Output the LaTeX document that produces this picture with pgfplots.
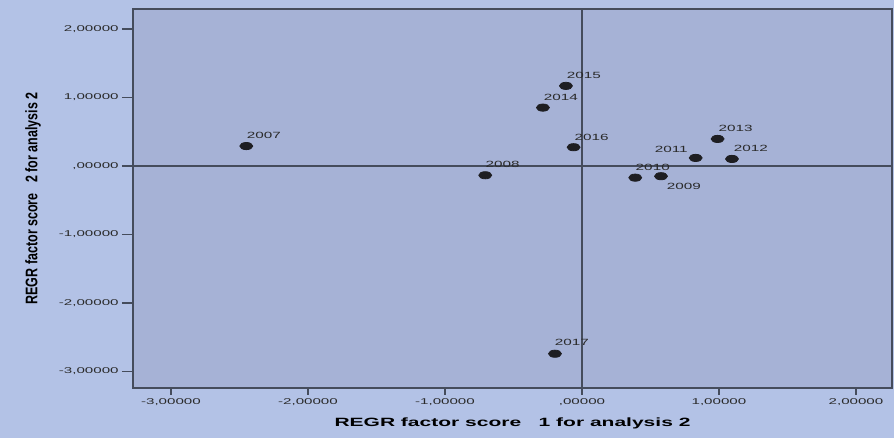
\documentclass[border=0pt]{standalone}
\usepackage{pgfplots}
\pgfplotsset{compat=1.18}
\usepackage{fontspec}
\setmainfont{Liberation Sans}
\newfontfamily\tickfont[FakeStretch=1.8]{Liberation Sans}
\newfontfamily\ptfont[FakeStretch=1.7]{Liberation Sans}
\newfontfamily\xlabfont[FakeStretch=1.75]{Liberation Sans}
\usetikzlibrary{backgrounds}
\definecolor{outerbg}{HTML}{B3C2E6}
\definecolor{plotbg}{HTML}{A6B2D6}
\definecolor{axline}{HTML}{454C5C}
\definecolor{txt}{HTML}{2A2A2A}
\definecolor{dot}{HTML}{1E1E22}
\pgfplotstableread{
x y dx dy lab
-2.45 0.29 8.75 5.2 2007
-0.706 -0.136 8.75 5.2 2008
0.577 -0.150 11.4 -4.85 2009
0.389 -0.171 8.75 5.2 2010
0.830 0.117 -12.2 4.5 2011
1.095 0.102 9.5 5.3 2012
0.990 0.394 9.0 5.3 2013
-0.285 0.851 9.0 5.3 2014
-0.117 1.168 9.0 5.0 2015
-0.061 0.273 9.0 5.0 2016
-0.197 -2.740 8.4 5.5 2017
}\pts
\begin{document}
\begin{tikzpicture}
\begin{axis}[
  at={(0,0)}, anchor=south west,
  scale only axis, width=379.5pt, height=189.5pt,
  xmin=-3.277, xmax=2.263, ymin=-3.24, ymax=2.29,
  xtick={-3,-2,-1,0,1,2}, ytick={-3,-2,-1,0,1,2},
  tick align=outside,
  axis background/.style={fill=plotbg},
  axis line style={draw=axline, line width=1pt},
  tick style={draw=axline, line width=0.8pt},
  major tick length=5.5pt,
  xticklabels={{-3,00000},{-2,00000},{-1,00000},{,00000},{1,00000},{2,00000}},
  yticklabels={{-3,00000},{-2,00000},{-1,00000},{,00000},{1,00000},{2,00000}},
  xtick pos=bottom, ytick pos=left,
  xtick style={draw=none},
  ticklabel style={font=\tickfont\fontsize{4.2}{5}\selectfont, text=txt, inner sep=0pt},
  xticklabel style={anchor=north, yshift=0.5pt},
  yticklabel style={anchor=east, xshift=-1.5pt},
  xlabel={\xlabfont\bfseries\fontsize{6}{7}\selectfont REGR factor score\ \ \ 1 for analysis 2},
  ylabel={\scalebox{1}[1.34]{\bfseries\fontsize{6.25}{7}\selectfont REGR factor score\ \ \ 2 for analysis 2}},
  every axis x label/.style={at={(axis description cs:0.5,-0.093)}, anchor=center, text=black},
  every axis y label/.style={at={(axis description cs:-0.1318,0.5)}, anchor=center, rotate=90, text=black},
  clip=false,
  unbounded coords=jump,
]
\addplot[axline, line width=0.6pt, forget plot] coordinates {(0,-3.24) (0,2.29)};
\addplot[axline, line width=0.6pt, forget plot] coordinates {(-3.277,0) (2.263,0)};
% x-axis tick marks
\addplot[axline, line width=1pt, forget plot] coordinates {
  (-3,-3.24) (-3,-3.345) (-3,nan)
  (-2,-3.24) (-2,-3.345) (-2,nan)
  (-1,-3.24) (-1,-3.345) (-1,nan)
  (0,-3.24) (0,-3.345) (0,nan)
  (1,-3.24) (1,-3.345) (1,nan)
  (2,-3.24) (2,-3.345)};
\addplot[only marks, mark=*, mark size=1.8pt, mark options={xscale=1.8, fill=dot, draw=dot},
  point meta=explicit symbolic,
  visualization depends on={\thisrow{dx}\as\dx},
  visualization depends on={\thisrow{dy}\as\dy},
  nodes near coords,
  nodes near coords style={anchor=center, inner sep=0pt, xshift=\dx pt, yshift=\dy pt,
    font=\ptfont\fontsize{4.5}{5}\selectfont, text=txt},
] table[x=x, y=y, meta=lab] {\pts};
\end{axis}
\begin{pgfonlayer}{background}
\fill[outerbg] (-66.5pt,-25pt) rectangle (380.5pt,194pt);
\end{pgfonlayer}
\pgfresetboundingbox
\useasboundingbox (-66.5pt,-25pt) rectangle (380.5pt,194pt);
\end{tikzpicture}
\end{document}
